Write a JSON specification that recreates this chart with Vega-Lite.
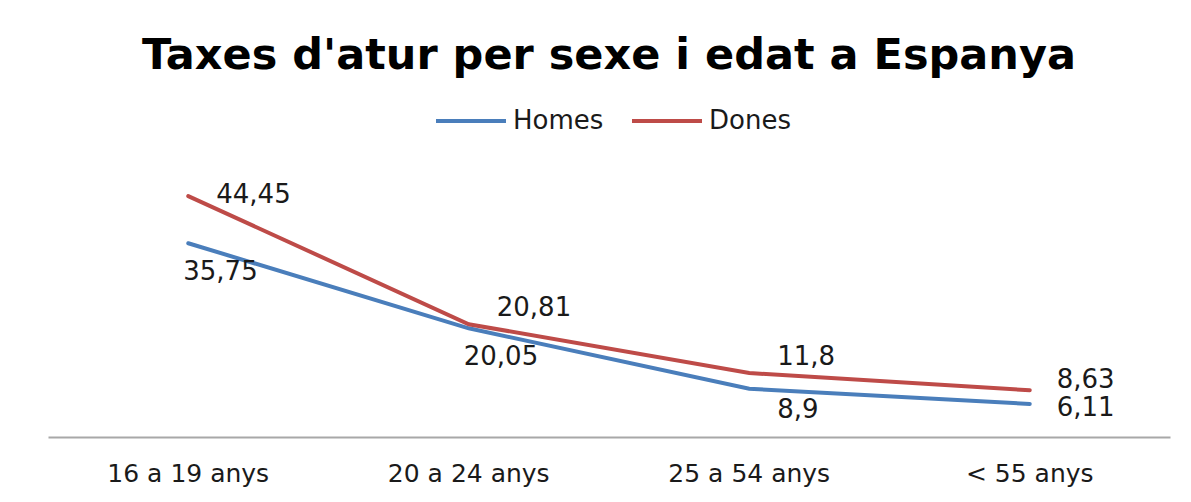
{
  "$schema": "https://vega.github.io/schema/vega-lite/v6.json",
  "width": 1122,
  "height": 271,
  "autosize": {"type": "none"},
  "padding": {"left": 48, "top": 166, "right": 21, "bottom": 65},
  "background": "white",
  "config": {"view": {"stroke": null}, "font": "DejaVu Sans"},
  "title": {
    "text": "Taxes d'atur per sexe i edat a Espanya",
    "font": "DejaVu Sans",
    "fontSize": 43,
    "fontWeight": "bold",
    "color": "#000000",
    "anchor": "middle",
    "frame": "group",
    "baseline": "alphabetic",
    "offset": 30,
    "dy": 58
  },
  "data": {
    "values": [
      {"edat": "16 a 19 anys", "sexe": "Homes", "taxa": 35.75, "etiqueta": "35,75"},
      {"edat": "20 a 24 anys", "sexe": "Homes", "taxa": 20.05, "etiqueta": "20,05"},
      {"edat": "25 a 54 anys", "sexe": "Homes", "taxa": 8.9, "etiqueta": "8,9"},
      {"edat": "< 55 anys", "sexe": "Homes", "taxa": 6.11, "etiqueta": "6,11"},
      {"edat": "16 a 19 anys", "sexe": "Dones", "taxa": 44.45, "etiqueta": "44,45"},
      {"edat": "20 a 24 anys", "sexe": "Dones", "taxa": 20.81, "etiqueta": "20,81"},
      {"edat": "25 a 54 anys", "sexe": "Dones", "taxa": 11.8, "etiqueta": "11,8"},
      {"edat": "< 55 anys", "sexe": "Dones", "taxa": 8.63, "etiqueta": "8,63"}
    ]
  },
  "encoding": {
    "x": {
      "field": "edat",
      "type": "nominal",
      "sort": ["16 a 19 anys", "20 a 24 anys", "25 a 54 anys", "< 55 anys"],
      "scale": {"type": "band", "paddingInner": 0, "paddingOuter": 0},
      "axis": {
        "title": null,
        "labelAngle": 0,
        "ticks": false,
        "domainColor": "#a8a8a8",
        "domainWidth": 2,
        "labelFont": "DejaVu Sans",
        "labelFontSize": 25,
        "labelColor": "#1a1a1a",
        "labelPadding": 24,
        "labelBaseline": "top",
        "grid": false
      }
    },
    "y": {
      "field": "taxa",
      "type": "quantitative",
      "scale": {"domain": [0, 50], "nice": false, "zero": true},
      "axis": null
    }
  },
  "layer": [
    {
      "mark": {"type": "line", "strokeWidth": 4, "strokeCap": "round"},
      "encoding": {
        "color": {
          "field": "sexe",
          "type": "nominal",
          "sort": ["Homes", "Dones"],
          "scale": {"domain": ["Homes", "Dones"], "range": ["#4a7ebb", "#be4b48"]},
          "legend": {
            "title": null,
            "orient": "none",
            "direction": "horizontal",
            "legendX": 386,
            "legendY": -82,
            "symbolType": "stroke",
            "symbolSize": 4900,
            "symbolStrokeWidth": 4,
            "labelFont": "DejaVu Sans",
            "labelFontSize": 26,
            "labelColor": "#1a1a1a",
            "labelOffset": 5,
            "columnPadding": 20,
            "padding": 0
          }
        }
      }
    },
    {
      "transform": [{"filter": "datum.sexe == 'Dones' && datum.edat == '16 a 19 anys'"}],
      "mark": {"type": "text", "align": "left", "baseline": "middle", "dx": 28, "dy": -1, "fontSize": 26, "font": "DejaVu Sans", "color": "#1a1a1a"},
      "encoding": {"text": {"field": "etiqueta"}}
    },
    {
      "transform": [{"filter": "datum.sexe == 'Dones' && (datum.edat == '20 a 24 anys' || datum.edat == '25 a 54 anys')"}],
      "mark": {"type": "text", "align": "left", "baseline": "middle", "dx": 28, "dy": -16, "fontSize": 26, "font": "DejaVu Sans", "color": "#1a1a1a"},
      "encoding": {"text": {"field": "etiqueta"}}
    },
    {
      "transform": [{"filter": "datum.sexe == 'Dones' && datum.edat == '< 55 anys'"}],
      "mark": {"type": "text", "align": "left", "baseline": "middle", "dx": 27, "dy": -10, "fontSize": 26, "font": "DejaVu Sans", "color": "#1a1a1a"},
      "encoding": {"text": {"field": "etiqueta"}}
    },
    {
      "transform": [{"filter": "datum.sexe == 'Homes' && (datum.edat == '16 a 19 anys' || datum.edat == '20 a 24 anys')"}],
      "mark": {"type": "text", "align": "left", "baseline": "middle", "dx": -5, "dy": 29, "fontSize": 26, "font": "DejaVu Sans", "color": "#1a1a1a"},
      "encoding": {"text": {"field": "etiqueta"}}
    },
    {
      "transform": [{"filter": "datum.sexe == 'Homes' && datum.edat == '25 a 54 anys'"}],
      "mark": {"type": "text", "align": "left", "baseline": "middle", "dx": 28, "dy": 21, "fontSize": 26, "font": "DejaVu Sans", "color": "#1a1a1a"},
      "encoding": {"text": {"field": "etiqueta"}}
    },
    {
      "transform": [{"filter": "datum.sexe == 'Homes' && datum.edat == '< 55 anys'"}],
      "mark": {"type": "text", "align": "left", "baseline": "middle", "dx": 27, "dy": 4, "fontSize": 26, "font": "DejaVu Sans", "color": "#1a1a1a"},
      "encoding": {"text": {"field": "etiqueta"}}
    }
  ]
}
